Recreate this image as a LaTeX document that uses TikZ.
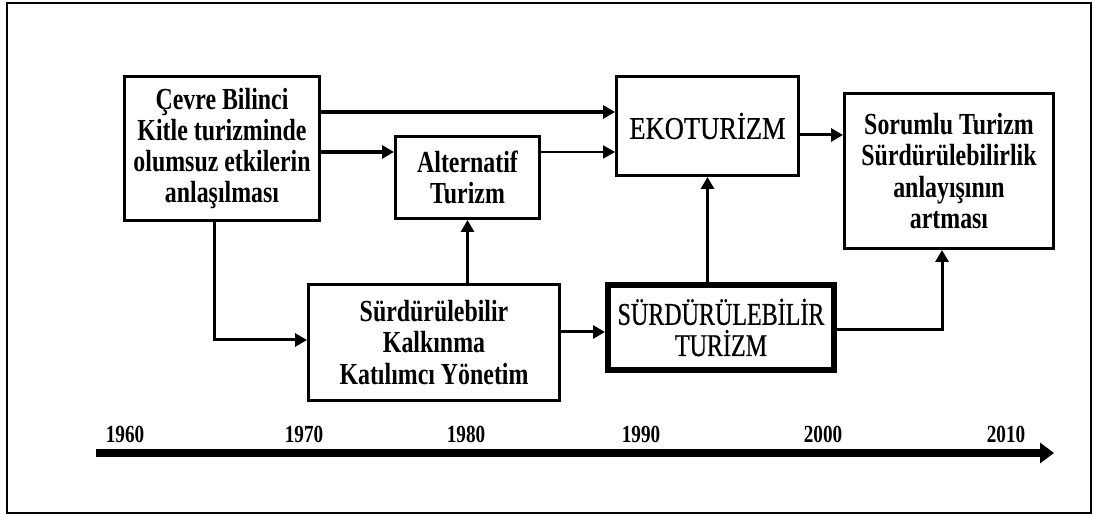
\documentclass[tikz,border=0pt]{standalone}
\usepackage{fontspec}
\setmainfont{Liberation Serif}[FakeStretch=0.78]
\newfontfamily\ekofont{Liberation Serif}[FakeStretch=0.84,FakeBold=0.6]
\newfontfamily\capsfont{Liberation Serif}[FakeStretch=0.76,FakeBold=0.6]
\usetikzlibrary{arrows.meta}
\tikzset{
box/.style={
  draw,
  rectangle,
  line width=1.5pt,
  align=center,
  inner sep=0pt,
  font=\bfseries\fontsize{15.3}{15.6}\selectfont
},
bigbox/.style={box, line width=3pt, font=\capsfont\fontsize{15.8}{15.6}\selectfont},
arr/.style={line width=1.5pt, -{Triangle[length=6pt,width=6.5pt]}},
year/.style={anchor=base, inner sep=0pt, font=\bfseries\fontsize{12.3}{12}\selectfont},
}

\begin{document}
\begin{tikzpicture}[x=0.5pt,y=-0.5pt]
\useasboundingbox (0,0) rectangle (1096,517);
\draw[line width=0.75pt] (7,3) rectangle (1091,513);
% the boxes
\node[box, minimum width=97.5pt, minimum height=72pt] (cevre) at (222,148.5)
  {Çevre Bilinci\\Kitle turizminde\\olumsuz etkilerin\\anlaşılması};
\node[box, minimum width=72pt, minimum height=41pt] (alt) at (467.5,177.5)
  {Alternatif\\Turizm};
\node[box, font=\ekofont\fontsize{15.8}{15.6}\selectfont,
  minimum width=91pt, minimum height=49.5pt] (eko) at (707.5,126) {EKOTURİZM};
\node[box, minimum width=104.5pt, minimum height=77.5pt] (sorumlu) at (949,171)
  {Sorumlu Turizm\\Sürdürülebilirlik\\anlayışının\\artması};
\node[box, minimum width=125.5pt, minimum height=58pt] (kalk) at (434,342.5)
  {Sürdürülebilir\\Kalkınma\\Katılımcı Yönetim};
\node[bigbox, minimum width=113pt, minimum height=42.5pt] (surdtur) at (721,327.5)
  {SÜRDÜRÜLEBİLİR\\TURİZM};
% the arrows
\coordinate (r1) at (0,112);
\coordinate (r2) at (0,152);
\coordinate (c1) at (214,340);
\coordinate (c2) at (0,332);
\coordinate (c3) at (0,135);
\coordinate (c4) at (942,330);
\draw[arr, line width=2pt] (cevre.east |- r1) -- (eko.west |- r1);
\draw[arr, line width=2pt] (cevre.east |- r2) -- (alt.west |- r2);
\draw[arr, line width=1pt] (alt.east |- r2) -- (eko.west |- r2);
\draw[arr] (cevre.south -| c1) |- (kalk.west |- c1);
\draw[arr] (kalk.north -| alt.south) -- (alt.south);
\draw[arr] (kalk.east |- c2) -- (surdtur.west |- c2);
\draw[arr] (surdtur.north -| eko.south) -- (eko.south);
\draw[arr] (eko.east |- c3) -- (sorumlu.west |- c3);
\draw[arr] (surdtur.east |- c4) -| (sorumlu.south -| c4);
% the time line
\coordinate (t0) at (96,453);
\coordinate (t1) at (1054,453);
\draw[line width=3.5pt, -{Triangle[length=7pt,width=10pt]}] (t0) -- (t1);
\foreach \yr/\xx in {1960/125,1970/304,1980/466,1990/641,2000/823,2010/1006}
{
  \node[year] (y\yr) at (\xx,443) {\yr};
}
\end{tikzpicture}
\end{document}
